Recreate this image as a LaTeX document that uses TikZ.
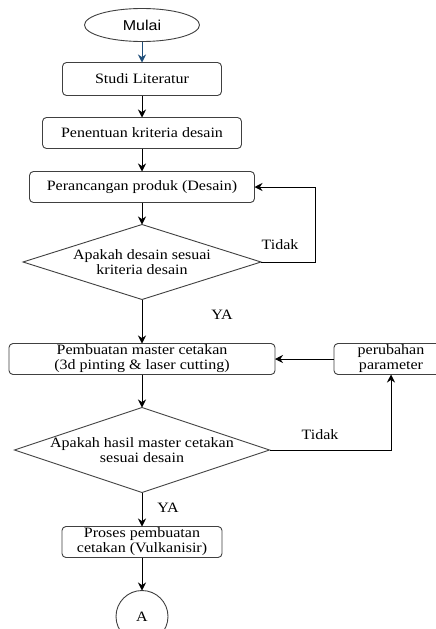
\documentclass[tikz,border=0pt]{standalone}
\usepackage{fontspec}
\setmainfont{Liberation Serif}[FakeStretch=1.12]
\setsansfont{Liberation Sans}[FakeStretch=1.12]
\usetikzlibrary{arrows.meta, positioning, shapes.geometric}
\definecolor{arrowblue}{RGB}{31,78,121}
\newcommand{\flowfont}{\fontsize{14.3}{15}\selectfont}
\begin{document}
\begin{tikzpicture}[
        x=1pt, y=-1pt,
        node distance=22pt,
        every node/.style={outer sep=0pt},
        box/.style={draw=black!75, line width=0.9pt, rounded corners=4pt,
                    minimum height=31pt, inner xsep=2pt, inner ysep=0pt,
                    align=center, font=\flowfont},
        dec/.style={draw=black!75, line width=0.9pt, diamond, inner sep=0pt},
        dtext/.style={align=center, font=\flowfont},
        term/.style={draw=black!75, line width=0.9pt, ellipse,
                     minimum width=115pt, minimum height=33pt,
                     font=\sffamily\flowfont},
        lbl/.style={font=\flowfont},
        arrow/.style={-{Stealth[length=8pt, width=8pt]}, line width=0.9pt}
    ]
        \useasboundingbox (0,0) rectangle (436,629);
        \fill[white] (0,0) rectangle (436,629);
        \clip (0,0) rectangle (436,629);
        \node[term] (s0) at (142,25) {Mulai};
        \node[box, minimum width=159pt, minimum height=33pt, below=21pt of s0] (s1) {Studi Literatur};
        \node[box, minimum width=199pt, below=22pt of s1] (s2) {Penentuan kriteria desain};
        \node[box, minimum width=225pt, below=23pt of s2] (s3) {Perancangan produk (Desain)};
        \node[dec, minimum width=238pt, minimum height=75pt, below=22pt of s3,
              label={[dtext]center:Apakah desain sesuai\\kriteria desain}] (d1) {};
        \node[box, minimum width=266pt, below=44pt of d1] (s4) {Pembuatan master cetakan\\(3d pinting \& laser cutting)};
        \node[box, minimum width=114pt, right=59pt of s4] (p1) {perubahan\\parameter};
        \node[dec, minimum width=255pt, minimum height=85pt, below=33pt of s4,
              label={[dtext]center:Apakah hasil master cetakan\\sesuai desain}] (d2) {};
        \node[box, minimum width=160pt, below=34pt of d2] (s5) {Proses pembuatan\\cetakan (Vulkanisir)};
        \node[circle, draw=black!75, line width=0.9pt, minimum size=52pt, font=\flowfont, below=33pt of s5] (s6) {A};
        % jawaban
        \node[lbl] (t1) at (280,245) {Tidak};
        \node[lbl] (y1) at (222,315) {YA};
        \node[lbl] (t2) at (320,435) {Tidak};
        \node[lbl] (y2) at (168,508) {YA};
        \draw[arrow, draw=arrowblue, fill=arrowblue] (s0) -- (s1);
        \draw[arrow] (s1) -- (s2);
        \draw[arrow] (s2) -- (s3);
        \draw[arrow] (s3) -- (d1);
        \draw[arrow] (d1) -- (s4);
        \draw[arrow] (s4) -- (d2);
        \draw[arrow] (d2) -- (s5);
        \draw[arrow] (s5) -- (s6);
        \draw[arrow] (d1.east) -- ++(54,0) |- (s3.east);
        \draw[arrow] (d2.east) -| (p1.south);
        \draw[arrow] (p1) -- (s4);
    \end{tikzpicture}
\end{document}
